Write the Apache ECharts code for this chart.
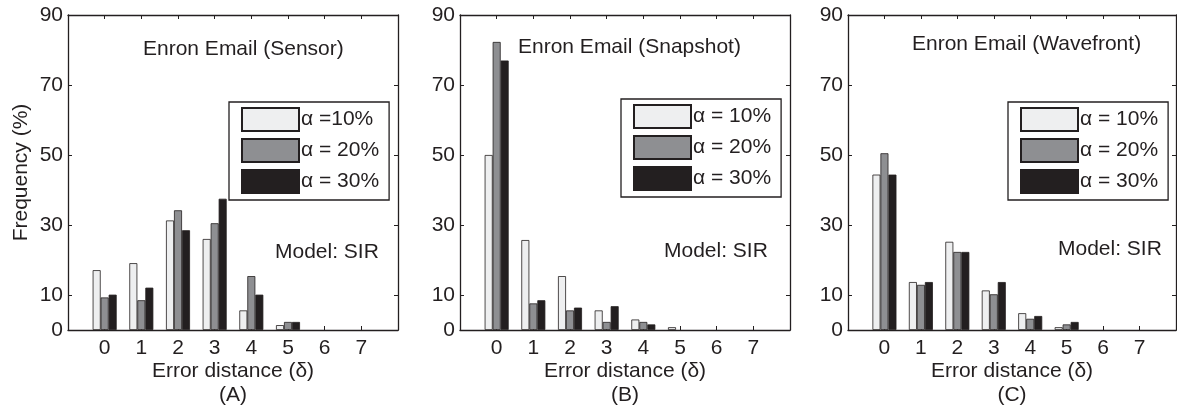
<!DOCTYPE html>
<html>
<head>
<meta charset="utf-8">
<script src="https://cdn.jsdelivr.net/npm/echarts@6/dist/echarts.min.js"></script>
<style>
  html, body { margin: 0; padding: 0; background: #fff; }
  #chart { width: 1177px; height: 412px; }
</style>
</head>
<body>
<div id="chart"></div>
<script>
// error distance categories and y ticks
const distances = [0, 1, 2, 3, 4, 5, 6, 7];
const yTicks = [0, 10, 30, 50, 70, 90];

// (A) Sensor
const sensor10 = [17.1, 19.1, 31.3, 26.0, 5.6, 1.4, 0, 0];
const sensor20 = [9.3, 8.5, 34.2, 30.5, 15.4, 2.3, 0, 0];
const sensor30 = [10.1, 12.1, 28.5, 37.5, 10.1, 2.3, 0, 0];
// (B) Snapshot
const snapshot10 = [50.0, 25.7, 15.4, 5.6, 3.0, 0.8, 0, 0];
const snapshot20 = [82.3, 7.6, 5.6, 2.3, 2.3, 0, 0, 0];
const snapshot30 = [77.0, 8.5, 6.4, 6.8, 1.6, 0, 0, 0];
// (C) Wavefront
const wavefront10 = [44.4, 13.7, 25.2, 11.3, 4.8, 0.8, 0, 0];
const wavefront20 = [50.5, 12.9, 22.3, 10.2, 3.2, 1.6, 0, 0];
const wavefront30 = [44.4, 13.7, 22.3, 13.7, 4.0, 2.3, 0, 0];

const namesA = ['α =10%', 'α = 20%', 'α = 30%'];
const namesBC = ['α = 10%', 'α = 20%', 'α = 30%'];

const titles = ['Enron Email (Sensor)', 'Enron Email (Snapshot)', 'Enron Email (Wavefront)'];
const letters = ['(A)', '(B)', '(C)'];

const ink = '#231f20';
const fills = ['#eeeff0', '#8e8f92', '#231f20'];
const font = "'Liberation Sans', Arial, sans-serif";
const fs = 21;

const panels = [
  { left: 68, width: 330, names: namesA, vals: [sensor10, sensor20, sensor30],
    titleX: 143, titleY: 39, legX: 229, legY: 102, modelX: 275, modelY: 242 },
  { left: 460, width: 330, names: namesBC, vals: [snapshot10, snapshot20, snapshot30],
    titleX: 518, titleY: 37, legX: 621, legY: 99, modelX: 664, modelY: 241 },
  { left: 848, width: 328, names: namesBC, vals: [wavefront10, wavefront20, wavefront30],
    titleX: 912, titleY: 34, legX: 1008, legY: 102, modelX: 1058, modelY: 239 }
];

const chart = echarts.init(document.getElementById('chart'), null, { renderer: 'canvas' });

const grid = [], xAxis = [], yAxis = [], series = [], legend = [], title = [];

panels.forEach((p, i) => {
  // fixed plot box, don't let v6 shrink it to fit labels
  grid.push({ left: p.left, top: 15, width: p.width, height: 315,
    outerBoundsMode: 'none', containLabel: false });

  // bottom + top x axes, left + right y axes -> closed box with inward ticks
  const xBase = {
    gridIndex: i, type: 'value', min: -1, max: 8, interval: 1,
    axisLine: { show: true, onZero: false, lineStyle: { color: ink, width: 1.3 } },
    axisTick: { show: true, inside: true, length: 4, lineStyle: { color: ink } },
    splitLine: { show: false }
  };
  xAxis.push(Object.assign({}, xBase, {
    position: 'bottom',
    axisLabel: {
      color: ink, fontSize: fs, fontFamily: font, margin: 8,
      formatter: v => (v < 0 || v > 7) ? '' : String(v)
    },
    name: 'Error distance (δ)\n' + letters[i],
    nameLocation: 'middle', nameGap: 29, nameMoveOverlap: false,
    nameTextStyle: { color: ink, fontSize: fs, fontFamily: font, lineHeight: 24 }
  }));
  xAxis.push(Object.assign({}, xBase, { position: 'top', axisLabel: { show: false } }));

  const yBase = {
    gridIndex: i, type: 'value', min: 0, max: 90,
    axisLine: { show: true, onZero: false, lineStyle: { color: ink, width: 1.3 } },
    axisTick: { show: true, inside: true, length: 4, customValues: yTicks, lineStyle: { color: ink } },
    splitLine: { show: false }
  };
  const yMain = Object.assign({}, yBase, {
    position: 'left',
    axisLabel: { color: ink, fontSize: fs, fontFamily: font, margin: 5, customValues: yTicks }
  });
  if (i === 0) {
    yMain.name = 'Frequency (%)';
    yMain.nameLocation = 'middle';
    yMain.nameRotate = 90;
    yMain.nameGap = 36;
    yMain.nameTextStyle = { color: ink, fontSize: fs, fontFamily: font };
  }
  yAxis.push(yMain);
  yAxis.push(Object.assign({}, yBase, { position: 'right', axisLabel: { show: false } }));

  p.vals.forEach((vals, k) => {
    series.push({
      type: 'bar', name: p.names[k],
      xAxisIndex: i * 2, yAxisIndex: i * 2,
      barWidth: 8, barGap: '0%',
      itemStyle: { color: fills[k], borderColor: ink, borderWidth: 0.8 },
      // empty bins draw nothing
      data: distances.map((d, j) => [d, vals[j] === 0 ? '-' : vals[j]])
    });
  });

  legend.push({
    data: p.names, orient: 'vertical', left: p.legX, top: p.legY,
    itemWidth: 57, itemHeight: 23, itemGap: 6,
    padding: [5, 10, 6, 12],
    backgroundColor: '#fff', borderColor: ink, borderWidth: 1.3, borderRadius: 0,
    icon: 'rect', selectedMode: false,
    textStyle: { color: ink, fontSize: fs, fontFamily: font, lineHeight: 23, padding: [0, 0, 0, -3] }
  });

  title.push({
    text: titles[i], left: p.titleX, top: p.titleY, padding: 0,
    textStyle: { color: ink, fontSize: fs, fontWeight: 'normal', fontFamily: font, lineHeight: 21 }
  });
  title.push({
    text: 'Model: SIR', left: p.modelX, top: p.modelY, padding: 0,
    textStyle: { color: ink, fontSize: fs, fontWeight: 'normal', fontFamily: font, lineHeight: 21 }
  });
});

chart.setOption({
  animation: false,
  backgroundColor: '#fff',
  title, grid, xAxis, yAxis, series, legend
});
</script>
</body>
</html>
